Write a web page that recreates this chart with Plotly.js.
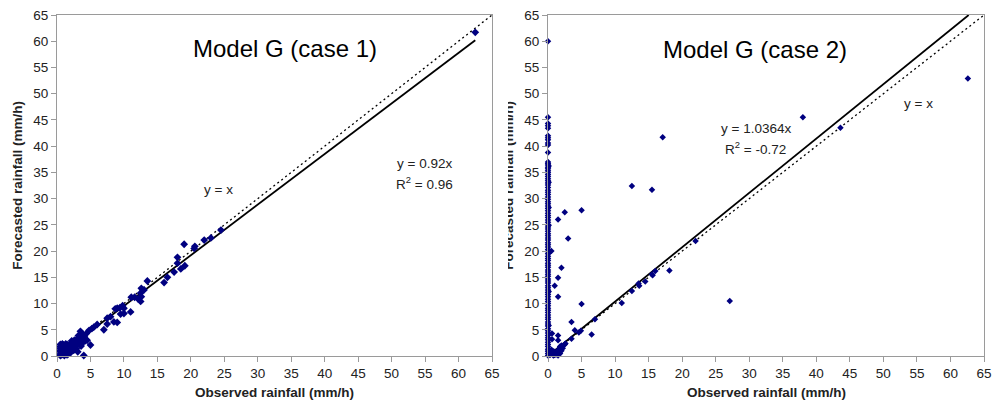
<!DOCTYPE html>
<html>
<head>
<meta charset="utf-8">
<script src="https://cdn.plot.ly/plotly-3.0.1.min.js"></script>
<style>
html,body{margin:0;padding:0;background:#fff;width:992px;height:412px;overflow:hidden;}
#c1{position:absolute;left:0;top:0;width:507px;height:412px;}
#c2{position:absolute;left:508px;top:0;width:484px;height:412px;}
</style>
</head>
<body>
<div id="c1"></div>
<div id="c2"></div>
<script>
// ---------- Data: Model G (case 1) ----------
var case1Observed = [
  0.5,0.5,0.5,0.5,0.5,0.5,0.5,0.7,0.8,0.8,0.8,0.9,1.0,1.0,1.0,
  1.1,1.2,1.2,1.3,1.4,1.5,1.5,1.5,1.6,1.7,1.8,1.8,1.9,2.0,2.0,2.1,
  2.2,2.3,2.4,2.5,2.5,2.6,2.7,2.8,2.9,3.0,3.0,3.1,3.2,3.3,3.4,3.5,
  3.5,3.6,3.7,3.8,3.9,4.0,4.0,4.1,4.2,4.4,4.5,4.8,5.0,3.2,2.2,1.3,
  5.5,6.0,5.2,7.0,7.5,7.5,8.0,8.5,9.0,8.7,9.0,9.4,9.5,10.0,10.0,9.8,
  11.0,11.1,11.6,12.1,12.5,12.6,12.5,12.6,13.0,13.5,16.0,16.5,17.5,18.5,19.1,
  18.0,18.0,19.0,20.5,20.6,22.0,23.0,24.5,62.5
];
var case1Forecast = [
  0.1,0.4,0.8,1.1,1.5,1.8,2.2,0.2,0.6,1.2,2.3,0.3,0.9,1.6,2.1,
  0.1,0.5,1.3,2.3,0.8,0.2,1.7,2.2,1.1,0.4,1.9,0.9,1.5,2.4,0.6,1.2,
  2.0,1.6,2.7,1.1,2.3,3.0,1.9,2.5,1.4,3.2,2.2,0.8,2.8,3.6,2.4,3.0,
  4.7,1.9,3.5,4.2,2.6,0.1,3.2,3.8,2.9,4.3,3.0,4.9,2.1,3.9,2.9,1.0,
  5.5,6.0,5.2,5.0,6.1,7.2,7.5,6.5,6.4,9.0,9.1,9.2,8.0,8.1,9.1,9.6,
  8.4,11.2,11.2,10.9,10.4,11.3,12.0,12.9,12.6,14.3,14.0,15.0,16.0,16.6,17.2,
  17.7,18.8,21.3,20.5,20.9,22.1,22.5,24.0,61.7
];
var case1FitX = [0.4, 62.5];
var case1FitY = [0.3, 60.2];

// ---------- Data: Model G (case 2) ----------
var case2Observed = [
  0,0,0,0,0,0,0,0,0,0,0,0,0,0,0,0,0,0,0,0,0,0,0,0,0,0,0,0,0,0,
  0,0,0,0,0,0,0,0,0,0,0,0,0,0,0,0,0,0,0,0,0,0,0,0,0,0,0,0,0,0,
  0,0,0,0,0,0,0,0,0,0,0,0,0,0,0,0,0,0,0,0,0,0,0,0,0,0,0,0,0,0,
  0,0,0,0,0,0,0,0,0,
  0.1,0.1,0.1,0.1,0.1,0.1,0.1,0.1,
  62.6,38.0,43.6,17.1,12.5,15.5,5.0,2.5,1.5,3.0,22.0,0.5,2.0,1.5,1.0,1.5,
  18.1,16.0,15.5,14.5,13.6,12.5,11.0,15.6,13.5,27.1,5.0,3.5,7.0,4.0,4.9,4.6,6.5,3.5,
  0.3,0.5,0.5,0.6,0.6,0.8,1.0,1.2,1.5,1.5,1.5,1.6,1.8,2.0,2.0,2.2,2.5,2.6,1.3,1.8,1.0,0.3,0.7
];
var case2Forecast = [
  60.0,45.5,44.3,43.9,43.4,42.0,41.6,41.2,40.6,40.2,38.8,37.0,36.7,36.4,36.0,35.7,35.3,35.0,34.6,34.2,33.8,33.4,33.0,32.6,32.1,31.6,31.2,30.8,30.3,29.9,
  29.4,29.0,28.6,28.1,27.7,27.2,26.8,26.4,25.9,25.5,25.0,24.6,24.2,23.8,23.3,22.9,22.5,22.1,21.6,21.2,20.8,20.3,19.9,19.5,19.0,18.6,18.2,17.7,17.3,16.9,
  16.4,16.0,15.6,15.2,14.7,14.3,13.9,13.4,13.0,12.6,12.1,11.7,11.3,10.8,10.4,10.0,9.6,9.1,8.7,8.3,7.8,7.4,7.0,6.5,6.1,5.7,5.2,4.8,4.4,3.9,
  3.5,3.1,2.6,2.2,1.8,1.3,0.9,0.5,0.1,
  36.2,33.1,28.3,24.9,19.6,12.3,5.8,1.1,
  52.9,45.5,43.5,41.7,32.4,31.7,27.8,27.4,26.0,22.4,21.9,20.0,16.8,14.9,13.4,11.3,
  16.3,16.2,15.6,14.2,13.4,12.4,10.1,15.4,13.8,10.5,9.9,6.5,7.0,4.9,4.8,4.5,4.1,3.3,
  0.2,0.5,1.2,4.3,3.2,0.1,0.8,0.3,3.9,3.0,0.1,1.3,0.5,1.0,2.0,1.5,2.2,2.4,0.6,1.8,0.2,0.8,1.0
];
var case2FitX = [0, 62.72];
var case2FitY = [0, 65];

var identityX = [0, 65];
var identityY = [0, 65];
var tickVals = [0,5,10,15,20,25,30,35,40,45,50,55,60,65];

// ---------- Styling ----------
var FONT = '"Liberation Sans", Arial, "DejaVu Sans", sans-serif';
var MARK = '#000080';
var AXC = '#9a9a9a';

function axis() {
  return {
    range: [0, 65], tickvals: tickVals, ticktext: tickVals.map(String),
    showgrid: false, zeroline: false, showline: true, mirror: true,
    linecolor: AXC, linewidth: 1, ticks: 'outside', ticklen: 5, tickcolor: AXC,
    tickfont: {family: FONT, size: 13.5, color: '#222'}, fixedrange: true
  };
}

function traces(ox, oy, fx, fy, msize) {
  return [
    {x: identityX, y: identityY, mode: 'lines', line: {color: '#000', width: 1.3, dash: '2px,3px'}, hoverinfo: 'skip'},
    {x: fx, y: fy, mode: 'lines', line: {color: '#000', width: 1.8}, hoverinfo: 'skip'},
    {x: ox, y: oy, mode: 'markers', cliponaxis: false,
     marker: {symbol: 'diamond', size: msize, color: MARK, line: {width: 0}}}
  ];
}

function layout(ml, mr, title, tx, ty, extra, ytitleX) {
  var ann = [
    {text: title, xref: 'x', yref: 'y', x: tx, y: ty, showarrow: false,
     font: {family: FONT, size: 24, color: '#000'}},
    {text: '<b>Observed rainfall (mm/h)</b>', xref: 'paper', yref: 'paper', x: 0.5, y: -0.108,
     yanchor: 'middle', showarrow: false, font: {family: FONT, size: 13.5, color: '#222'}},
    {text: '<b>Forecasted rainfall (mm/h)</b>', xref: 'paper', yref: 'paper', x: ytitleX, y: 0.5,
     xanchor: 'center', yanchor: 'middle', textangle: -90, showarrow: false,
     font: {family: FONT, size: 13.5, color: '#222'}}
  ].concat(extra);
  return {
    autosize: true,
    margin: {l: ml, r: mr, t: 15, b: 56, pad: 0},
    paper_bgcolor: '#fff', plot_bgcolor: '#fff',
    showlegend: false,
    xaxis: axis(), yaxis: axis(),
    annotations: ann,
    font: {family: FONT}
  };
}

var eqFont = {family: FONT, size: 13.5, color: '#222'};

var l1 = layout(56.7, 15, 'Model G (case 1)', 34.1, 58.7, [
  {text: 'y = 0.92x', xref: 'x', yref: 'y', x: 50.5, y: 36.6, xanchor: 'left', showarrow: false, font: eqFont},
  {text: 'R<sup>2</sup> = 0.96', xref: 'x', yref: 'y', x: 50.4, y: 32.9, xanchor: 'left', showarrow: false, font: eqFont},
  {text: 'y = x', xref: 'x', yref: 'y', x: 24.2, y: 31.8, showarrow: false, font: eqFont}
], (17 - 56.7) / 435.3);

var l2 = layout(39.7, 8, 'Model G (case 2)', 30.9, 58.5, [
  {text: 'y = 1.0364x', xref: 'x', yref: 'y', x: 31.0, y: 43.3, showarrow: false, font: eqFont},
  {text: 'R<sup>2</sup> = -0.72', xref: 'x', yref: 'y', x: 31.0, y: 39.6, showarrow: false, font: eqFont},
  {text: 'y = x', xref: 'x', yref: 'y', x: 55.2, y: 48.1, showarrow: false, font: eqFont}
], (0 - 39.7) / 436.3);

var cfg = {displayModeBar: false, staticPlot: true};
Plotly.newPlot('c1', traces(case1Observed, case1Forecast, case1FitX, case1FitY, 6), l1, cfg);
Plotly.newPlot('c2', traces(case2Observed, case2Forecast, case2FitX, case2FitY, 5), l2, cfg);
</script>
</body>
</html>
